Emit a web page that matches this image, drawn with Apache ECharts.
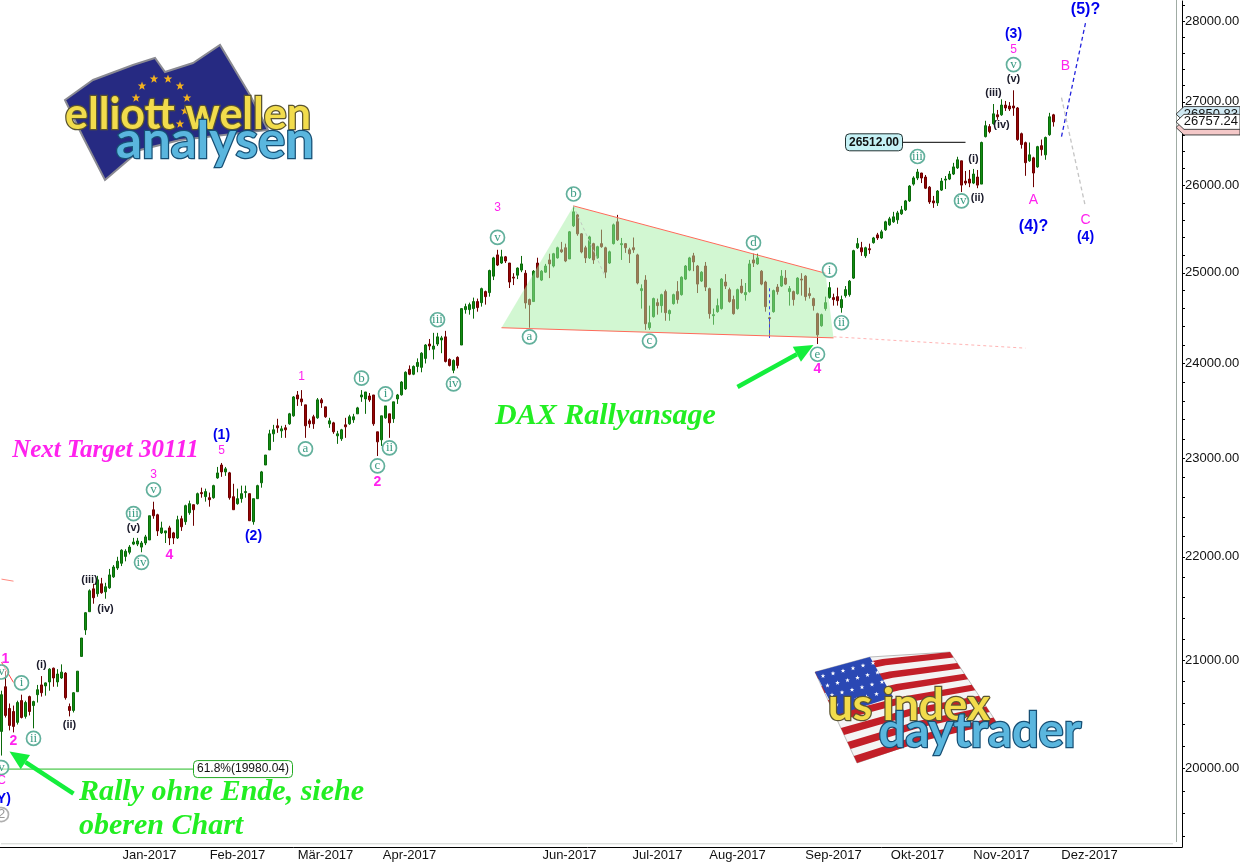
<!DOCTYPE html>
<html><head><meta charset="utf-8">
<style>html,body{margin:0;padding:0;background:#fff}#c{width:1240px;height:864px}</style>
<script src="https://cdn.jsdelivr.net/npm/echarts@6/dist/echarts.min.js"></script>
</head><body><div id="c"></div>
<script>
const opens=[
20337,20750,20548,20520,20420,20621,20475,20658,20575,20676,
20767,20758,20795,20924,20795,20832,20878,20566,20530,20704,
21035,21288,21463,21685,21637,21734,21656,21695,21802,21889,
21936,22004,22045,22126,22126,22096,22137,22167,22470,22420,
22238,22238,22288,22238,22187,22380,22350,22441,22522,22532,
22645,22604,22593,22593,22795,22928,22857,22847,22603,22532,
22583,22645,22634,22350,22583,22745,22928,23084,23252,23336,
23283,23315,23357,23441,23662,23620,23557,23388,23431,23420,
23610,23536,23357,23367,23231,23200,23346,23357,23399,23462,
23641,23620,23651,23662,23273,23189,23420,23462,23410,23620,
23664,23727,23937,23884,23968,23958,24055,24211,24155,24211,
24255,24289,24044,23926,24066,24200,24589,24589,24600,24678,
24666,24789,24778,24962,25202,25110,25180,25110,24951,24973,
25030,24995,24700,24678,25110,24918,25007,25145,25076,25168,
25260,25283,25156,25534,25660,25442,25283,25168,25330,25168,
25330,25283,25110,25330,25580,25318,25330,25260,25283,25202,
24800,24918,24389,24511,24666,24633,24789,24544,24655,24789,
24755,24929,25030,25191,25076,24907,25076,24822,24522,24566,
24600,24896,24811,24700,24600,24851,24755,24789,25145,25100,
25018,24896,24500,24566,24840,24851,24940,24789,24789,24766,
24929,24962,24766,24711,24544,24411,24600,24722,24722,24733,
24611,24744,24755,24940,25283,25283,25191,25272,25341,25430,
25395,25488,25545,25580,25603,25672,25718,25822,26018,26089,
26148,26101,25982,25822,25799,25948,26065,26077,26136,26208,
26292,26053,26077,26030,26101,26018,26580,26700,26735,26842,
26842,26960,26949,26949,26925,26615,26508,26292,26327,26220,
26472,26363,26603,26842];
const closes=[
20676,20484,20392,20383,20603,20465,20603,20520,20612,20722,
20694,20786,20915,20832,20869,20887,20648,20530,20694,20896,
21210,21453,21666,21598,21773,21647,21705,21821,21899,21956,
22065,22055,22096,22147,22157,22137,22198,22410,22410,22258,
22288,22258,22187,22187,22370,22299,22512,22532,22471,22634,
22634,22655,22573,22716,22846,22857,22888,22593,22471,22583,
22634,22655,22360,22583,22716,22857,23031,23252,23294,23315,
23304,23294,23462,23641,23620,23589,23336,23357,23357,23610,
23578,23431,23388,23273,23252,23294,23325,23431,23431,23525,
23662,23694,23610,23357,23168,23441,23546,23367,23589,23662,
23800,23905,23884,23968,24011,24111,24200,24189,24189,24289,
24278,24022,23979,24033,23979,24600,24622,24644,24678,24611,
24822,24733,25025,25168,25087,25180,25133,24896,24940,25053,
25100,24663,24644,25018,24950,25018,25076,25100,25215,25283,
25237,25133,25465,25695,25442,25235,25168,25407,25145,25295,
25295,25007,25237,25545,25373,25330,25283,25214,25260,24885,
24822,24433,24444,24711,24633,24755,24555,24578,24755,24700,
24950,25076,25168,25122,24873,25007,24840,24544,24533,24633,
24929,24851,24678,24544,24811,24778,24778,25100,25110,25168,
24873,24622,24489,24800,24789,24962,24873,24822,24700,24940,
24918,24733,24744,24633,24311,24533,24666,24833,24700,24688,
24700,24811,24906,25250,25330,25237,25283,25260,25395,25395,
25465,25580,25614,25637,25683,25718,25822,25995,26090,26160,
26089,25970,25810,25799,25937,26053,26077,26136,26220,26304,
26006,26030,26030,26136,26006,26510,26711,26640,26854,26818,
26960,26925,26913,26925,26545,26485,26270,26363,26148,26460,
26425,26570,26818,26757.24];
const lows=[
20117,20465,20346,20328,20400,20456,20455,20484,20365,20603,
20658,20667,20713,20750,20750,20823,20630,20475,20511,20704,
21035,21240,21463,21540,21608,21637,21589,21685,21792,21870,
21908,21955,22024,22116,22106,22045,22116,22167,22380,22207,
22227,22137,22116,22126,22177,22258,22319,22420,22309,22522,
22593,22553,22502,22583,22786,22806,22816,22573,22471,22522,
22542,22593,22360,22320,22583,22695,22928,23084,23168,23262,
23210,23210,23347,23431,23546,23546,23210,23315,23304,23410,
23525,23420,23315,23252,23147,23178,23210,23346,23367,23462,
23589,23462,23589,23336,23021,23126,23410,23210,23367,23567,
23655,23716,23874,23874,23905,23905,24000,24144,24044,24189,
24111,24011,23968,23895,23947,24200,24544,24533,24489,24566,
24622,24644,24733,24918,25076,25100,25110,24829,24862,24929,
25007,24600,24389,24678,24940,24907,25000,24940,25060,25160,
25225,25120,25156,25520,25420,25220,25110,25156,25100,25160,
25283,24940,25100,25320,25360,25145,25225,25110,25225,24870,
24600,24366,24366,24500,24533,24555,24466,24466,24644,24655,
24744,24918,25018,25018,24773,24896,24795,24489,24422,24555,
24589,24818,24666,24533,24589,24766,24688,24778,25065,25090,
24860,24566,24278,24555,24755,24840,24862,24633,24633,24755,
24744,24688,24711,24578,24211,24400,24577,24711,24633,24633,
24555,24722,24733,24930,25270,25191,25168,25214,25330,25372,
25384,25476,25534,25568,25557,25660,25706,25810,26000,26065,
26030,25960,25787,25741,25764,25937,25960,26065,26124,26196,
25925,26006,25982,26018,25970,26018,26570,26620,26723,26782,
26830,26889,26889,26830,26530,26437,26115,26280,25982,26210,
26353,26304,26590,26700];
const highs=[
20713,20896,20594,20575,20620,20676,20620,20667,20620,20767,
20850,20790,20924,20930,20915,20960,20887,20594,20700,20896,
21210,21460,21680,21734,21812,21792,21744,21880,21918,22000,
22075,22075,22116,22188,22188,22157,22218,22410,22552,22430,
22350,22258,22309,22248,22410,22410,22522,22563,22522,22645,
22695,22685,22645,22725,22908,22949,22908,22857,22735,22685,
22716,22716,22634,22583,22725,22867,23031,23294,23346,23410,
23336,23346,23472,23651,23704,23714,23557,23410,23452,23630,
23630,23536,23420,23378,23283,23304,23420,23452,23462,23536,
23714,23694,23683,23662,23273,23441,23546,23462,23589,23673,
23810,23915,23979,23979,24055,24122,24210,24266,24333,24333,
24300,24355,24055,24044,24077,24600,24655,24666,24722,24711,
24833,24800,25035,25180,25260,25260,25190,25110,24995,25060,
25190,25030,24711,25030,25170,25030,25100,25215,25225,25295,
25350,25330,25475,25764,25670,25450,25306,25420,25340,25306,
25490,25295,25250,25560,25660,25395,25335,25283,25400,25215,
24870,24973,24633,24722,24711,24766,24811,24590,24766,24906,
24960,25087,25180,25225,25087,25018,25122,24833,24600,24711,
24940,24985,24833,24744,24822,24929,24885,25145,25215,25215,
25030,24910,24510,24811,24873,25030,25030,24851,24800,24950,
24995,24973,24833,24722,24555,24544,24733,24896,24766,24833,
24744,24851,24918,25260,25395,25350,25295,25330,25407,25453,
25488,25592,25637,25695,25706,25764,25833,26006,26110,26196,
26150,26125,25995,25880,25948,26090,26113,26172,26268,26340,
26292,26172,26184,26196,26184,26520,26770,26730,26973,26901,
27030,27010,26996,27140,26937,26628,26520,26510,26340,26470,
26545,26580,26866,26854];

const monthLabels=['Jan-2017','Feb-2017','Mär-2017','Apr-2017','Jun-2017','Jul-2017','Aug-2017','Sep-2017','Okt-2017','Nov-2017','Dez-2017'];
const monthSlots=[37,59,81,102,142,164,184,208,229,250,272];
const slotCount=294;
const priceTicks=[20000,21000,22000,23000,24000,25000,26000,27000,28000];
const minorTicks=[19400,19600,19800,20000,20200,20400,20600,20800,21000,21200,21400,21600,21800,22000,22200,22400,22600,22800,23000,23200,23400,23600,23800,24000,24200,24400,24600,24800,25000,25200,25400,25600,25800,26000,26200,26400,26600,26800,27000,27200,27400,27600,27800,28000,28200];

// wave labels: text, slot, price, style
const waveLabels=[
['(5)?',271,28139,'blueL'],['(3)',253,27836,'blue'],['5',253,27640,'mag'],['v',253,27455,'ring'],['(v)',253,27280,'blk'],
['B',266,27440,'magL'],['(iii)',248,27110,'blk'],['(iv)',250,26725,'blk'],['(i)',243,26318,'blk'],['iii',229,26343,'ring'],
['iv',240,25822,'ring'],['(ii)',244,25857,'blk'],['A',258,25834,'magL'],['(4)?',258,25523,'blueL'],['C',271,25603,'magL'],
['(4)',271,25408,'blue'],['b',143,25902,'ring'],['3',124,25747,'mag'],['v',124,25401,'ring'],['d',188,25340,'ring'],
['i',207,25030,'ring'],['ii',210,24444,'ring'],['e',204,24100,'ring'],['4',204,23937,'magB'],['a',132,24289,'ring'],
['c',162,24244,'ring'],['iii',109,24477,'ring'],['iv',113,23780,'ring'],['i',96,23674,'ring'],['ii',97,23105,'ring'],
['b',90,23842,'ring'],['1',75,23853,'mag'],['a',76,23095,'ring'],['c',94,22918,'ring'],['2',94,22755,'magB'],
['(1)',55,23241,'blue'],['5',55,23073,'mag'],['3',38,22827,'mag'],['v',38,22674,'ring'],['(2)',63,22207,'blue'],
['iii',33,22432,'ring'],['(v)',33,22288,'blk'],['4',42,22014,'magB'],['iv',35,21945,'ring'],['(iii)',22,21773,'blk'],
['(iv)',26,21492,'blk'],['(i)',10,20951,'blk'],['i',5,20786,'ring'],['(ii)',17,20392,'blk'],['ii',8,20273,'ring'],
['1',1,21007,'magB'],['v',0,20888,'ring'],['2',3,20244,'magB'],['v',0,20009,'ring'],['C',0,19890,'mag'],['(Y)',0,19730,'blue'],['2',0,19590,'gray']
];
const bigTexts=[
['DAX Rallyansage',151,23433,'bold italic 30px "Liberation Serif"','#22ee22','center'],
['Next Target 30111',26,23073,'bold italic 25px "Liberation Serif"','#ff22ee','center'],
['Rally ohne Ende, siehe',19,19784,'bold italic 30px "Liberation Serif"','#22ee22','left'],
['oberen Chart',19,19483,'bold italic 30px "Liberation Serif"','#22ee22','left']
];
// trend lines: [slot,price] pairs + colour, width, dash
const wedgeFill=[[125,24389],[143,25764],[206,24995],[208,24278]];
const fibLevel=19995;
const trendLines=[
[[143,25764],[206,24995],'#ff6a5a',1,null],
[[125,24389],[208,24278],'#ff6a5a',1,null],
[[208,24290],[256,24166],'#ffb4b4',1,[3,3]],
[[143,25764],[151,24950],'#c0c8c0',1,[3,3]],
[[192,24826],[192,24278],'#3344ee',1,[3,3]],
[[0,21780],[3,21760],'#ff8a80',1,null],
[[0,20980],[3,20790],'#ff4040',1,null],
[[265,26580],[271,27975],'#2222dd',1.3,[4,3]],
[[265,27050],[271,25750],'#c4c4c4',1.3,[4,3]],
[[0,19334],[293,19334],'#a0a8a0',1,[1,1]],
[[0,fibLevel],[48,fibLevel],'#22bb22',1,null],
[[225,26512],[241,26512],'#000000',1,null]
];
const arrows=[[[184,23748],[203,24200]],[[18,19776],[2,20153]]];
const priceTags=[[26690,'','#f4c8c8'],[26850.83,'26850.83','#cfe8f2'],[26757.24,'26757.24','#ffffff']];
const boxTags=[['61.8%(19980.04)',48,fibLevel,99,'#ffffff','#22aa22',false],['26512.00',211,26512,57,'#c6f2f6','#223333',true]];

const overlays=[
 {t:'poly'},
 ...trendLines.map(l=>({t:'line',l})),
 ...arrows.map(a=>({t:'arrow',a})),
 ...boxTags.map(b=>({t:'box',b})),
 ...waveLabels.map(w=>({t:'wave',w})),
 ...bigTexts.map(b=>({t:'big',b})),
 ...priceTags.map(p=>({t:'tag',p}))
];
const styles={
 blue:['bold 14px "Liberation Sans"','#0000ee'],blueL:['bold 16px "Liberation Sans"','#0000ee'],
 mag:['12px "Liberation Sans"','#ff22ee'],magL:['14px "Liberation Sans"','#ff22ee'],magB:['bold 14px "Liberation Sans"','#ff22ee'],
 blk:['bold 11px "Liberation Sans"','#1a1a2a'],gray:['13px "Liberation Sans"','#999999']
};
function renderOverlay(params,api){
 const o=overlays[params.dataIndex];
 const C=p=>api.coord(p);
 if(o.t==='poly') return {type:'polygon',shape:{points:wedgeFill.map(C)},style:{fill:'rgba(165,240,165,0.5)',stroke:null},silent:true};
 if(o.t==='line'){const[a,b,col,w,d]=o.l;const A=C(a),B=C(b);
  return {type:'line',shape:{x1:A[0],y1:A[1],x2:B[0],y2:B[1]},style:{stroke:col,lineWidth:w,lineDash:d||undefined,fill:null},silent:true};}
 if(o.t==='arrow'){const A=C(o.a[0]),B=C(o.a[1]);const dx=B[0]-A[0],dy=B[1]-A[1],L=Math.hypot(dx,dy),ux=dx/L,uy=dy/L;
  const bx=B[0]-ux*19,by=B[1]-uy*19;
  return {type:'group',children:[
   {type:'line',shape:{x1:A[0],y1:A[1],x2:bx,y2:by},style:{stroke:'#14ee3c',lineWidth:4.5}},
   {type:'polygon',shape:{points:[B,[bx-uy*8.5,by+ux*8.5],[bx+uy*8.5,by-ux*8.5]]},style:{fill:'#14ee3c'}}]};}
 if(o.t==='box'){const[txt,k,v,w,fill,stroke,bold]=o.b;const P=C([k,v]);
  return {type:'group',children:[
   {type:'rect',shape:{x:P[0],y:P[1]-8.5,width:w,height:17,r:4},style:{fill,stroke,lineWidth:1}},
   {type:'text',x:P[0]+w/2,y:P[1],style:{text:txt,font:(bold?'bold ':'')+'12px "Liberation Sans"',fill:'#111',align:'center',verticalAlign:'middle'}}]};}
 if(o.t==='wave'){const[txt,k,v,s]=o.w;const P=C([k,v]);
  if(s==='ring') return {type:'group',children:[
   {type:'circle',shape:{cx:P[0],cy:P[1],r:7},style:{fill:'rgba(255,255,255,0.5)',stroke:'#62b09c',lineWidth:1.7}},
   {type:'text',x:P[0],y:P[1],style:{text:txt,font:'13px "Liberation Serif"',fill:'#3c9c84',align:'center',verticalAlign:'middle'}}]};
  if(s==='gray') return {type:'group',children:[
   {type:'circle',shape:{cx:P[0],cy:P[1],r:7},style:{fill:'#fff',stroke:'#b0b0b0',lineWidth:1.7}},
   {type:'text',x:P[0],y:P[1],style:{text:txt,font:styles.gray[0],fill:'#999',align:'center',verticalAlign:'middle'}}]};
  return {type:'text',x:P[0],y:P[1],style:{text:txt,font:styles[s][0],fill:styles[s][1],align:'center',verticalAlign:'middle'}};}
 if(o.t==='big'){const[txt,k,v,font,col,al]=o.b;const P=C([k,v]);
  return {type:'text',x:P[0]+(al==='left'?1.5:0),y:P[1],style:{text:txt,font,fill:col,align:al,verticalAlign:'middle'}};}
 if(o.t==='tag'){const[v,txt,fill]=o.p;const y=C([0,v])[1];const x0=1176,x1=1240,h=7.5;
  return {type:'group',children:[
   {type:'polygon',shape:{points:[[x0,y],[x0+8,y-h],[x1,y-h],[x1,y+h],[x0+8,y+h]]},style:{fill,stroke:'#444',lineWidth:1}},
   {type:'text',x:1238,y:y,style:{text:txt,font:'13px "Liberation Sans"',fill:'#111',align:'right',verticalAlign:'middle'}}]};}
}

const categories=Array.from({length:slotCount},(_,i)=>{const m=monthSlots.indexOf(i);return m>=0?monthLabels[m]:'';});
const candleData=opens.map((o,i)=>[o,closes[i],lows[i],highs[i]]);

function starPts(cx,cy,r){const p=[];for(let i=0;i<10;i++){const a=-Math.PI/2+i*Math.PI/5,q=i%2?r*0.42:r;p.push([cx+q*Math.cos(a),cy+q*Math.sin(a)]);}return p;}
const euStars=[[154,79],[168,79],[180,86],[187,98],[185,111],[180,124],[142,86],[136,98]];
const logoEU=[
 {type:'polygon',z:1,shape:{points:[[65,100],[93,80],[133,65],[155,58],[165,72],[193,63],[220,45],[250,95],[268,130],[180,140],[140,150],[105,180],[83,137]]},style:{fill:'#262a82',stroke:'#8a8a92',lineWidth:2}},
 ...euStars.map(s=>({type:'polygon',z:2,shape:{points:starPts(s[0],s[1],4.5)},style:{fill:'#f0b020'}})),
 {type:'text',z:3,x:188,y:115,style:{text:'elliott wellen',font:'bold 43px Lato',fill:'#f2dc4c',stroke:'#5a5430',lineWidth:2.5,align:'center',verticalAlign:'middle',shadowBlur:3,shadowColor:'#666'}},
 {type:'text',z:4,x:215,y:142,style:{text:'analysen',font:'bold 51px Lato',fill:'#5ab6de',stroke:'#174f74',lineWidth:2.5,align:'center',verticalAlign:'middle',shadowBlur:3,shadowColor:'#666'}}
];
function usFlag(){
 const L0=[815,672],L1=[857,763],R0=[950,652],R1=[997,723];const n=13;const out=[{type:'polygon',z:1,shape:{points:[L0,[870,657],R0,R1,[933,737],L1]},style:{fill:'#f4f4f4',stroke:'#bbb',lineWidth:1}}];
 const lerp=(a,b,t)=>[a[0]+(b[0]-a[0])*t,a[1]+(b[1]-a[1])*t];
 for(let i=0;i<n;i+=2){const a=lerp(L0,L1,i/n),b=lerp(L0,L1,(i+1)/n),c=lerp(R0,R1,(i+1)/n),d=lerp(R0,R1,i/n);
  out.push({type:'polygon',z:2,shape:{points:[a,[(a[0]+d[0])/2,(a[1]+d[1])/2-3],d,c,[(b[0]+c[0])/2,(b[1]+c[1])/2-3],b]},style:{fill:'#c21f28'}});}
 out.push({type:'polygon',z:3,shape:{points:[L0,[870,657],[893,697],[837,715]]},style:{fill:'#2a48b4'}});
 for(let r=0;r<4;r++)for(let c=0;c<6;c++){const x=823+c*10+r*4.5,y=676-c*2.6+r*9.5;out.push({type:'polygon',z:4,shape:{points:starPts(x,y,2.4)},style:{fill:'#fff'}});}
 return out;
}
const logoUS=[...usFlag(),
 {type:'text',z:5,x:909,y:706,style:{text:'us index',font:'bold 44px Lato',fill:'#f2dc4c',stroke:'#5a5430',lineWidth:2.5,align:'center',verticalAlign:'middle',shadowBlur:3,shadowColor:'#666'}},
 {type:'text',z:6,x:980,y:732,style:{text:'daytrader',font:'bold 47px Lato',fill:'#5ab6de',stroke:'#174f74',lineWidth:2.5,align:'center',verticalAlign:'middle',shadowBlur:3,shadowColor:'#666'}}
];
const frame=[
 {type:'line',z:0,shape:{x1:1176.5,y1:0,x2:1176.5,y2:842},style:{stroke:'#a0aca4',lineWidth:1}},
 {type:'line',z:0,shape:{x1:1175,y1:847.5,x2:1182.5,y2:847.5},style:{stroke:'#000',lineWidth:1}}
];

const chart=echarts.init(document.getElementById('c'),null,{renderer:'canvas'});
chart.setOption({
 animation:false,backgroundColor:'#fff',tooltip:{show:false},
 grid:{left:-0.5,top:1,width:1176,height:846,outerBoundsMode:'none',containLabel:false},
 xAxis:{type:'category',data:categories,boundaryGap:true,
  axisLine:{lineStyle:{color:'#000',width:1}},
  axisTick:{inside:true,length:5,alignWithLabel:true,interval:(i)=>monthSlots.includes(i),lineStyle:{color:'#000'}},
  axisLabel:{interval:(i)=>monthSlots.includes(i),margin:2,color:'#111',fontFamily:'Liberation Sans',fontSize:13,hideOverlap:false},
  splitLine:{show:false}},
 yAxis:{type:'log',logBase:10,position:'right',offset:6.5,min:19306,max:28253,
  axisLine:{show:true,onZero:false,lineStyle:{color:'#000',width:1}},
  axisTick:{show:true,length:3,customValues:minorTicks,lineStyle:{color:'#000'}},
  axisLabel:{customValues:priceTicks,margin:3,color:'#111',fontFamily:'Liberation Sans',fontSize:13,formatter:v=>Number(v).toFixed(2),showMinLabel:true,showMaxLabel:true},
  splitLine:{show:false},minorTick:{show:false},minorSplitLine:{show:false}},
 series:[
  {type:'candlestick',data:candleData,barWidth:3.4,silent:true,
   itemStyle:{color:'#128c12',color0:'#960404',borderColor:'#0a6a0a',borderColor0:'#6e0000',borderWidth:1},z:2},
  {type:'custom',data:overlays.map((_,i)=>[i,20000]),renderItem:renderOverlay,clip:false,silent:true,z:5,encode:{x:0,y:1}}
 ],
 graphic:[...frame,...logoEU,...logoUS]
});
</script></body></html>
